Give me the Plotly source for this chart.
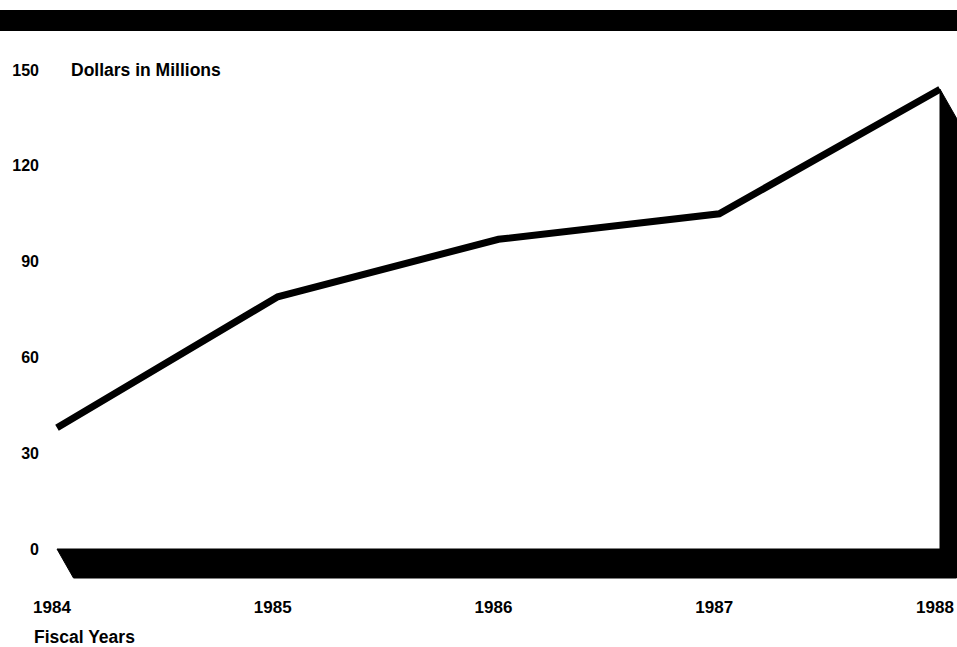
import plotly.graph_objects as go

# ---- data ----
years = [1984, 1985, 1986, 1987, 1988]
dollars = [38, 79, 97, 105, 144]
y_ticks = [0, 30, 60, 90, 120, 150]
x_tick_labels = ["1984", "1985", "1986", "1987", "1988"]

# ---- geometry (pixels) ----
W, H = 957, 647
L, R, T, B = 44, 0, 40, 57          # margins
plot_w = W - L - R
plot_h = H - T - B
px_per_year = 220.75
px_per_unit = 3.193
x_left_px = 13                        # 1984 is 13px right of axis
x_min = years[0] - x_left_px / px_per_year
x_max = x_min + plot_w / px_per_year
y_zero_px_from_bottom = (H - B) - 549
y_min = -y_zero_px_from_bottom / px_per_unit
y_max = y_min + plot_h / px_per_unit

# 3-D extrusion offset of floor / right wall
dx = 16.5 / px_per_year
dy = 29 / px_per_unit

x0, xn, vn = years[0], years[-1], dollars[-1]
shadow_x = [x0, xn, xn, xn + dx, xn + dx, x0 + dx, x0]
shadow_y = [0, 0, vn, vn - dy, -dy, -dy, 0]

font_family = "Liberation Sans, Arial, Helvetica, sans-serif"

fig = go.Figure()
fig.add_trace(go.Scatter(
    x=shadow_x, y=shadow_y, mode="lines", fill="toself",
    fillcolor="black", line=dict(color="black", width=1),
    hoverinfo="skip", showlegend=False))
fig.add_trace(go.Scatter(
    x=years, y=dollars, mode="lines",
    line=dict(color="black", width=7),
    showlegend=False))

def px_to_paper_x(px):
    return (px - L) / plot_w

def px_to_paper_y(py):
    return ((H - B) - py) / plot_h

# top black band
fig.add_shape(type="rect", xref="paper", yref="paper",
              x0=px_to_paper_x(0), x1=px_to_paper_x(W),
              y0=px_to_paper_y(31), y1=px_to_paper_y(10),
              fillcolor="black", line=dict(width=0), layer="above")

fig.add_annotation(text="Dollars in Millions", xref="paper", yref="paper",
                   x=px_to_paper_x(69), y=px_to_paper_y(70),
                   xanchor="left", yanchor="middle", showarrow=False,
                   font=dict(family=font_family, size=17.5, color="black",
                             weight="bold"))
fig.add_annotation(text="Fiscal Years", xref="paper", yref="paper",
                   x=px_to_paper_x(32), y=px_to_paper_y(637),
                   xanchor="left", yanchor="middle", showarrow=False,
                   font=dict(family=font_family, size=17.5, color="black",
                             weight="bold"))

fig.update_layout(
    width=W, height=H,
    margin=dict(l=L, r=R, t=T, b=B, pad=0),
    paper_bgcolor="white", plot_bgcolor="white",
    showlegend=False,
    xaxis=dict(range=[x_min, x_max], tickvals=years, ticktext=x_tick_labels,
               showgrid=False, zeroline=False, showline=False, ticks="",
               ticklabelstandoff=5, ticklabelshift=-5,
               tickfont=dict(family=font_family, size=17, color="black",
                             weight="bold")),
    yaxis=dict(range=[y_min, y_max], tickvals=y_ticks,
               showgrid=False, zeroline=False, showline=False, ticks="",
               ticklabelstandoff=4,
               tickfont=dict(family=font_family, size=16, color="black",
                             weight="bold")),
)

fig.write_html("out.html")
